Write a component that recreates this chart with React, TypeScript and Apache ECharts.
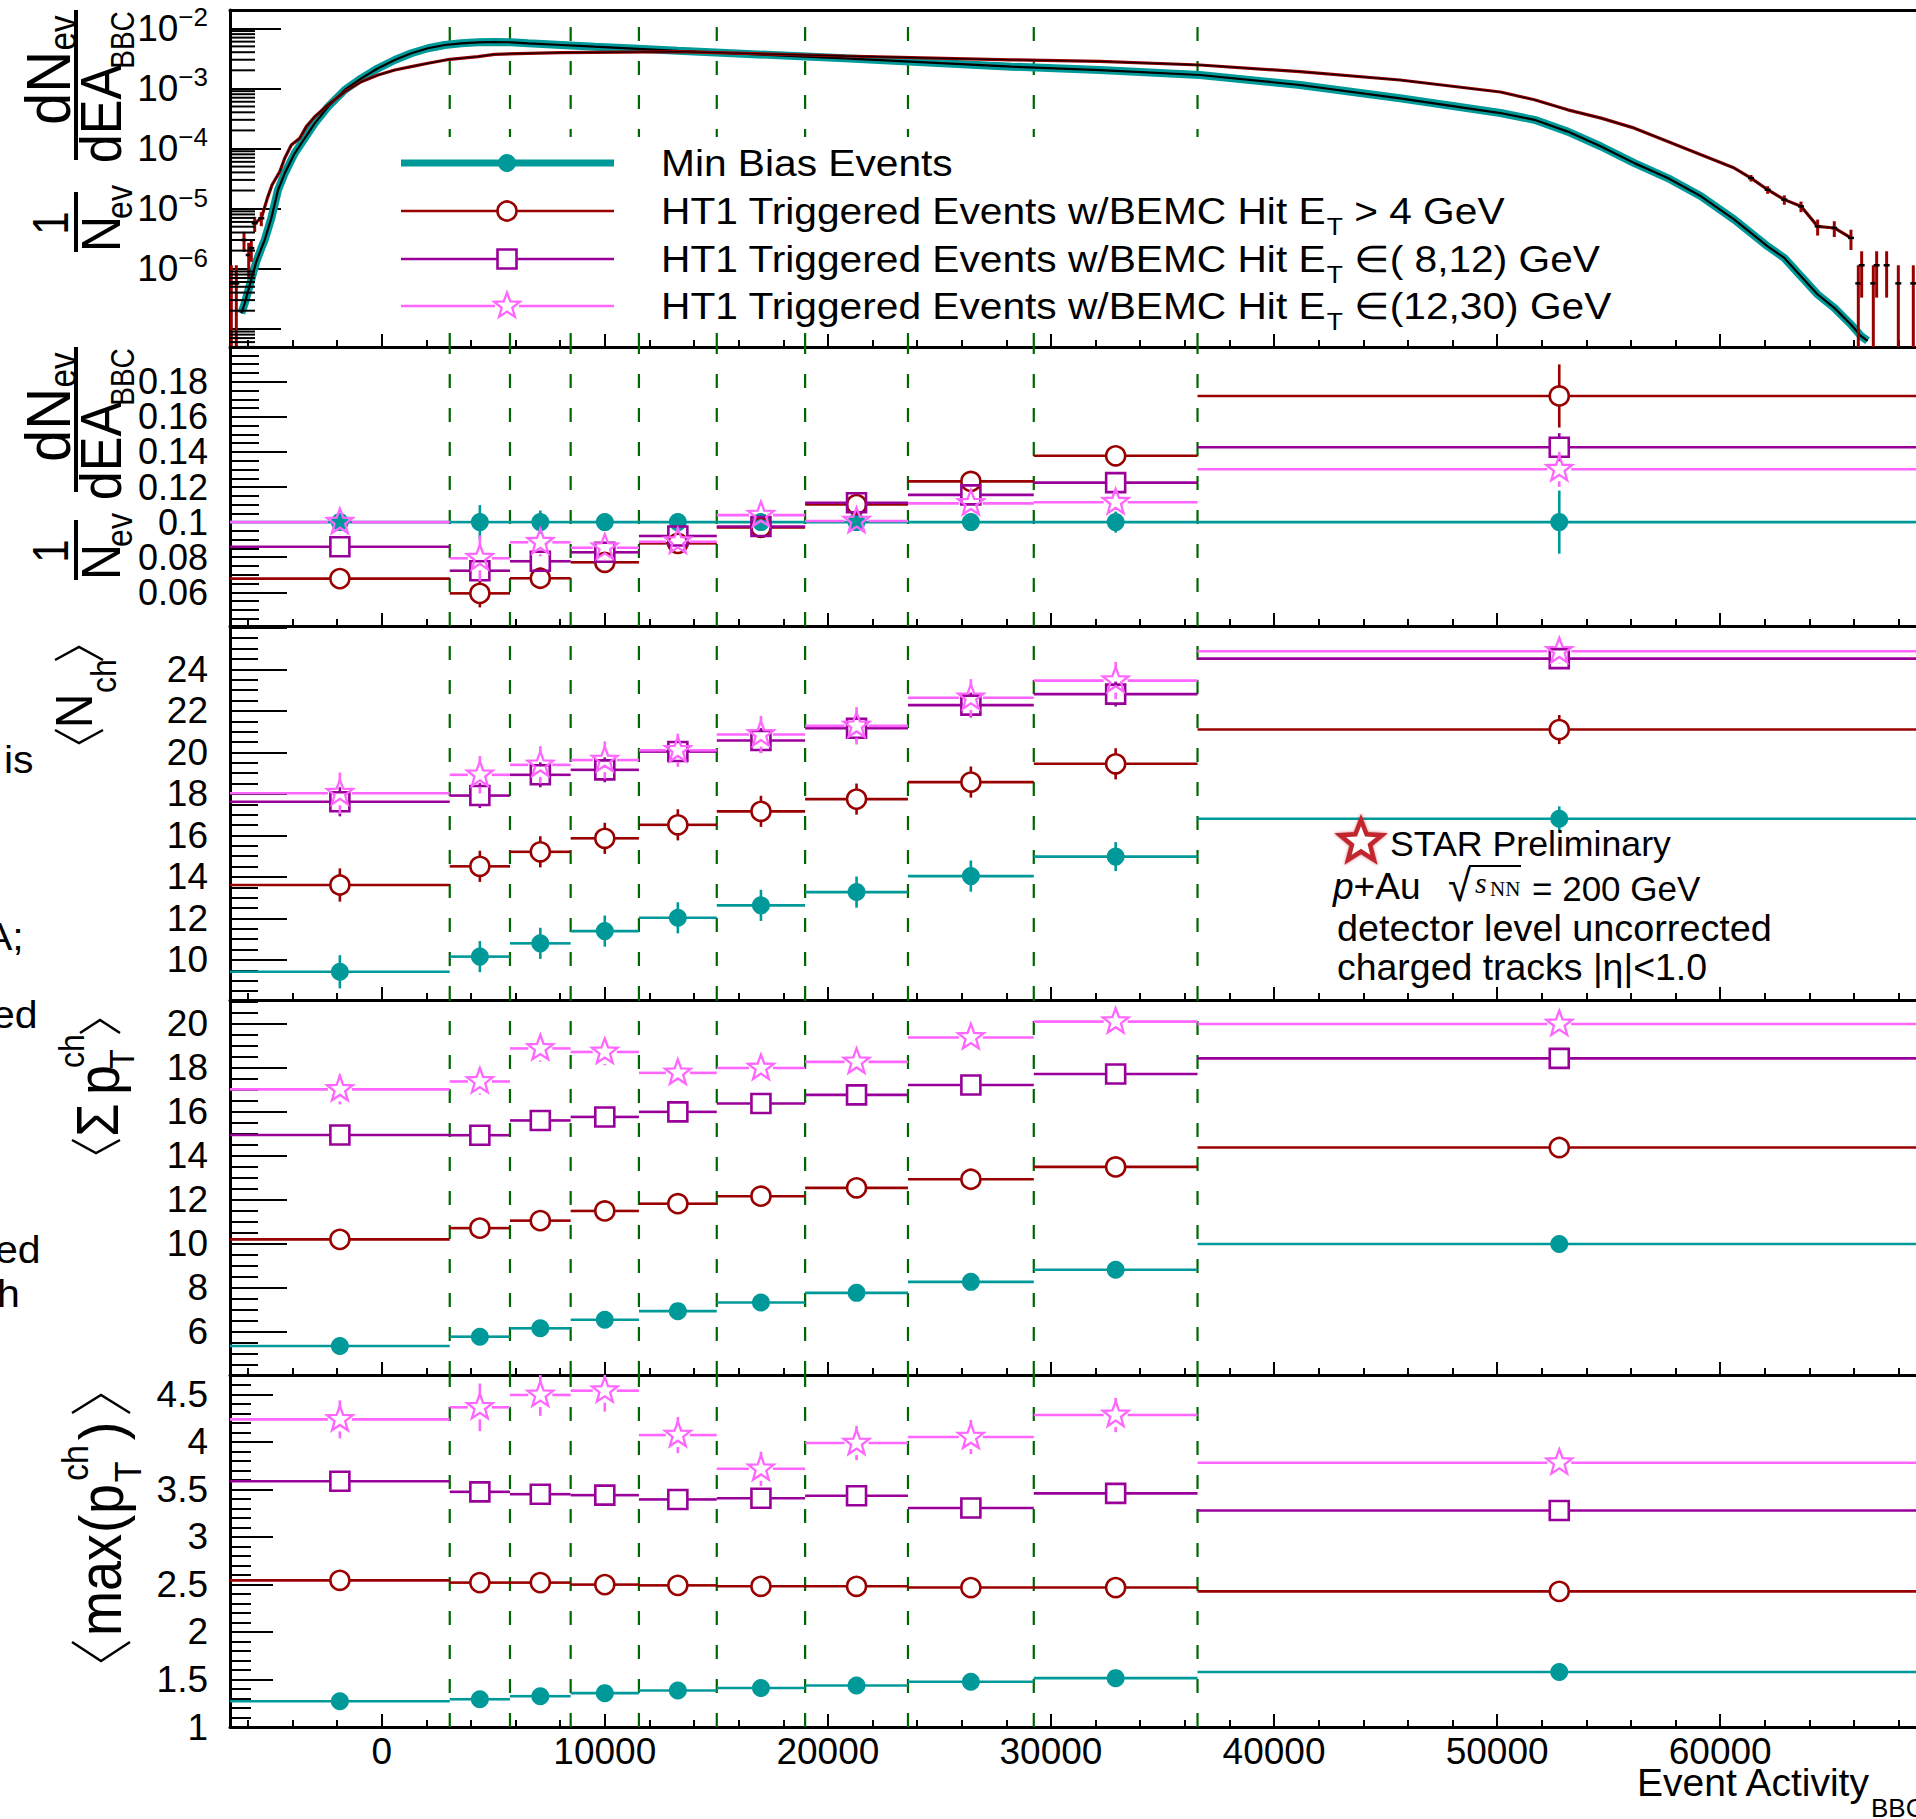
import React, { useEffect, useRef } from "react";
import * as echarts from "echarts";

const SANS = '"Liberation Sans", Arial, Helvetica, sans-serif';
const SERIF = '"Liberation Serif", "Times New Roman", serif';

const TEAL = "#009999";
const RED = "#990000";
const PURPLE = "#990099";
const PINK = "#ff66ff";
const GREEN = "#006600";
const STAR_RED = "#c1272d";

const X_MIN = -6800;
const X_MAX = 69000;

// bin edges of the Event Activity classes
const binEdges = [-6800, 3050, 5750, 8470, 11530, 15020, 18980, 23590, 29230, 36570, 69000];

const legendLabels = [
  "Min Bias Events",
  "HT1 Triggered Events w/BEMC Hit E{t|T} > 4 GeV",
  "HT1 Triggered Events w/BEMC Hit E{t|T} \u2208( 8,12) GeV",
  "HT1 Triggered Events w/BEMC Hit E{t|T} \u2208(12,30) GeV",
];

// ---- Panel 1: 1/N dN/dEA distributions ----
const mbDistX = [-6293, -6141, -5621, -5397, -5244, -4949, -4648, -4348, -3900, -3452, -3003, -2407, -1659, -914, -166, 583, 1327, 2075, 2824, 3568, 4317, 5065, 5810, 6558, 8051, 9548, 11041, 13282, 20753, 28222, 32198, 36680, 41163, 45645, 50150, 51673, 53166, 54659, 56153, 57646, 59140, 60633, 62127, 62873, 63620, 64367, 65113, 65860, 66308, 66607];
const mbDistY = [1.81e-7, 2.65e-7, 1.31e-6, 2.18e-6, 3.01e-6, 6.9e-6, 2.04e-5, 3.86e-5, 8.32e-5, 1.48e-4, 2.62e-4, 4.95e-4, 9.4e-4, 1.47e-3, 2.16e-3, 2.97e-3, 3.84e-3, 4.65e-3, 5.27e-3, 5.62e-3, 5.85e-3, 5.92e-3, 5.85e-3, 5.62e-3, 5.27e-3, 4.94e-3, 4.65e-3, 4.22e-3, 3.17e-3, 2.3e-3, 2.02e-3, 1.67e-3, 1.14e-3, 6.84e-4, 3.89e-4, 3.0e-4, 1.91e-4, 1.08e-4, 5.71e-5, 3.22e-5, 1.6e-5, 6.55e-6, 2.36e-6, 1.51e-6, 7.48e-7, 3.72e-7, 2.23e-7, 1.18e-7, 7.59e-8, 6.31e-8];

const htDistX = [-5693, -5397, -5128, -4917, -4572, -4348, -4052, -3676, -3380, -3003, -2407, -1659, -914, -166, 583, 1327, 2075, 3048, 4317, 5065, 6558, 8051, 9548, 13282, 20753, 28222, 32198, 36680, 41163, 45645, 50150, 51673, 53166, 54659, 56153, 57646, 59140, 60633, 61380, 62127, 62873, 63620, 64367, 65113, 65860];
const htDistY = [5.69e-6, 6.9e-6, 1.48e-5, 2.47e-5, 4.11e-5, 6.87e-5, 1.14e-4, 1.48e-4, 2.31e-4, 3.38e-4, 5.3e-4, 8.81e-4, 1.29e-3, 1.67e-3, 2.02e-3, 2.3e-3, 2.62e-3, 3.05e-3, 3.37e-3, 3.69e-3, 3.84e-3, 3.93e-3, 3.99e-3, 4.08e-3, 3.46e-3, 2.99e-3, 2.82e-3, 2.45e-3, 1.9e-3, 1.38e-3, 8.7e-4, 6.46e-4, 4.4e-4, 3.2e-4, 2.18e-4, 1.31e-4, 7.85e-5, 4.72e-5, 3.22e-5, 2.06e-5, 1.41e-5, 1.09e-5, 5.06e-6, 4.76e-6, 3.25e-6];

// HT1 bins with visible error bars (low-statistics tails)
const htBarX = [-6741, -6517, -6172, -5962, -5845, -5693, -5397, 61380, 62127, 62873, 63620, 64367, 65113, 65860, 66190, 66340, 66862, 67012, 67460, 67983, 68655];
const htBarY = [5.7e-7, 5.7e-7, 3.0e-6, 1.69e-6, 2.2e-6, 5.69e-6, 6.9e-6, 3.22e-5, 2.06e-5, 1.41e-5, 1.09e-5, 5.06e-6, 4.76e-6, 3.25e-6, 5.7e-7, 1.14e-6, 5.7e-7, 1.14e-6, 1.14e-6, 5.7e-7, 5.7e-7];
const htBarErr = [5.7e-7, 5.7e-7, 1.1e-6, 1.0e-6, 0.9e-6, 1.6e-6, 1.8e-6, 0.4e-5, 0.3e-5, 0.25e-5, 0.22e-5, 1.5e-6, 1.4e-6, 1.2e-6, 5.7e-7, 8.1e-7, 5.7e-7, 8.1e-7, 8.1e-7, 5.7e-7, 5.7e-7];

// ---- Panel 2: 1/N dN/dEA per class ----
const p2MB = [0.1, 0.1, 0.1, 0.1, 0.1, 0.1, 0.1, 0.1, 0.1, 0.1];
const p2MBErr = [0.003, 0.0097, 0.0066, 0.004, 0.004, 0.004, 0.004, 0.005, 0.006, 0.018];
const p2HT4 = [0.0678, 0.0594, 0.068, 0.0771, 0.0879, 0.097, 0.11, 0.1232, 0.1378, 0.1719];
const p2HT4Err = [0.002, 0.008, 0.006, 0.004, 0.004, 0.004, 0.004, 0.004, 0.005, 0.018];
const p2HT8 = [0.086, 0.0723, 0.0777, 0.0828, 0.0921, 0.0975, 0.111, 0.1155, 0.1225, 0.1427];
const p2HT8Err = [0.002, 0.006, 0.005, 0.003, 0.003, 0.003, 0.003, 0.004, 0.004, 0.008];
const p2HT12 = [0.1, 0.0794, 0.0885, 0.0854, 0.0888, 0.104, 0.1006, 0.1107, 0.1113, 0.1301];
const p2HT12Err = [0.007, 0.013, 0.008, 0.007, 0.006, 0.006, 0.006, 0.007, 0.007, 0.01];

// ---- Panel 3: <N_ch> ----
const p3MB = [9.43, 10.16, 10.8, 11.39, 12.03, 12.63, 13.27, 14.04, 14.98, 16.8];
const p3MBErr = [0.8, 0.75, 0.75, 0.75, 0.75, 0.75, 0.75, 0.75, 0.7, 0.6];
const p3HT4 = [13.61, 14.51, 15.21, 15.86, 16.51, 17.16, 17.75, 18.57, 19.45, 21.1];
const p3HT4Err = [0.8, 0.75, 0.75, 0.75, 0.75, 0.75, 0.75, 0.75, 0.75, 0.7];
const p3HT8 = [17.62, 17.92, 18.92, 19.16, 20.04, 20.57, 21.16, 22.28, 22.81, 24.52];
const p3HT8Err = [0.7, 0.6, 0.6, 0.6, 0.5, 0.6, 0.6, 0.6, 0.6, 0.5];
const p3HT12 = [18.03, 18.92, 19.4, 19.63, 20.1, 20.86, 21.28, 22.63, 23.46, 24.87];
const p3HT12Err = [1.0, 0.9, 0.9, 0.9, 0.8, 0.9, 0.9, 0.9, 0.9, 0.6];

// ---- Panel 4: <Sum pT^ch> ----
const p4MB = [5.35, 5.77, 6.15, 6.54, 6.93, 7.32, 7.76, 8.26, 8.81, 9.98];
const p4MBErr = [0.15, 0.15, 0.15, 0.15, 0.15, 0.15, 0.15, 0.15, 0.15, 0.15];
const p4HT4 = [10.19, 10.7, 11.04, 11.48, 11.81, 12.15, 12.53, 12.92, 13.48, 14.36];
const p4HT4Err = [0.2, 0.2, 0.2, 0.2, 0.2, 0.2, 0.2, 0.2, 0.2, 0.2];
const p4HT8 = [14.93, 14.92, 15.59, 15.75, 15.98, 16.36, 16.75, 17.2, 17.7, 18.41];
const p4HT8Err = [0.28, 0.25, 0.25, 0.25, 0.25, 0.25, 0.25, 0.25, 0.25, 0.2];
const p4HT12 = [17.0, 17.36, 18.86, 18.7, 17.75, 17.97, 18.25, 19.36, 20.08, 19.97];
const p4HT12Err = [0.68, 0.6, 0.6, 0.6, 0.55, 0.55, 0.55, 0.55, 0.5, 0.35];

// ---- Panel 5: <max(pT^ch)> ----
const p5MB = [1.271, 1.292, 1.324, 1.356, 1.384, 1.411, 1.437, 1.476, 1.514, 1.578];
const p5MBErr = [0.02, 0.02, 0.02, 0.02, 0.02, 0.02, 0.02, 0.02, 0.02, 0.02];
const p5HT4 = [2.543, 2.519, 2.519, 2.498, 2.49, 2.48, 2.48, 2.467, 2.467, 2.427];
const p5HT4Err = [0.02, 0.02, 0.02, 0.02, 0.02, 0.02, 0.02, 0.02, 0.02, 0.02];
const p5HT8 = [3.586, 3.474, 3.449, 3.439, 3.394, 3.407, 3.433, 3.304, 3.458, 3.278];
const p5HT8Err = [0.04, 0.04, 0.04, 0.04, 0.04, 0.04, 0.04, 0.04, 0.04, 0.03];
const p5HT12 = [4.236, 4.363, 4.493, 4.538, 4.071, 3.716, 3.987, 4.05, 4.282, 3.78];
const p5HT12Err = [0.2, 0.25, 0.22, 0.22, 0.19, 0.18, 0.18, 0.18, 0.18, 0.1];

// ---- layout ----
const GRID_TOP = [10, 347, 626, 1000, 1375];
const GRID_H = [337, 279, 374, 375, 352];
const Y_RANGE = [[-7.303, -1.6955], [0.0408, 0.1998], [8.07, 26.09], [4.03, 21.06], [1.0, 4.703]];
const Y_SPLIT = [5, 8, 8, 8, 8];
const LABEL_TOP = [-2, 0.18, 24, 20, 4.5];
const MAJOR_LEN = [51, 57, 57, 57, 43];
const MINOR_LEN = [25, 29, 28, 28, 21];
const MINOR_SPLIT = [5, 4, 4, 4, 5];
const LABEL_SIZE = [36, 36, 37, 37, 37];

function starPoints(cx: number, cy: number, R: number, r: number) {
  const pts: number[][] = [];
  for (let k = 0; k < 10; k++) {
    const a = -Math.PI / 2 + (k * Math.PI) / 5;
    const rad = k % 2 === 0 ? R : r;
    pts.push([cx + rad * Math.cos(a), cy + rad * Math.sin(a)]);
  }
  return pts;
}

function markerShape(kind: string, cx: number, cy: number, color: string): any {
  if (kind === "dot") return { type: "circle", shape: { cx, cy, r: 9 }, style: { fill: color } };
  if (kind === "circle")
    return { type: "circle", shape: { cx, cy, r: 9.5 }, style: { fill: "none", stroke: color, lineWidth: 2.6 } };
  if (kind === "square")
    return { type: "rect", shape: { x: cx - 9.5, y: cy - 9.5, width: 19, height: 19 }, style: { fill: "none", stroke: color, lineWidth: 2.6 } };
  return { type: "polygon", shape: { points: starPoints(cx, cy, 13.5, 5.6) }, style: { fill: "none", stroke: color, lineWidth: 2.3 } };
}

function stepSeries(grid: number, values: number[], errs: number[], color: string, kind: string, z: number): any {
  return {
    type: "custom",
    xAxisIndex: grid,
    yAxisIndex: grid,
    clip: true,
    z,
    silent: true,
    data: values.map((v, i) => [binEdges[i], binEdges[i + 1], v, errs[i]]),
    renderItem: (params: any, api: any) => {
      const lo = api.value(0);
      const hi = api.value(1);
      const v = api.value(2);
      const e = api.value(3);
      const mid = (lo + hi) / 2;
      const L = api.coord([lo, v]);
      const R = api.coord([hi, v]);
      const C = api.coord([mid, v]);
      const T = api.coord([mid, v + e]);
      const B = api.coord([mid, v - e]);
      const gap = kind === "dot" ? 0 : kind === "star" ? 12 : 10;
      const ls = { stroke: color, lineWidth: 2.6 };
      const ch: any[] = [
        { type: "line", shape: { x1: L[0], y1: L[1], x2: C[0] - gap, y2: C[1] }, style: ls },
        { type: "line", shape: { x1: C[0] + gap, y1: C[1], x2: R[0], y2: R[1] }, style: ls },
      ];
      if (C[1] - T[1] > gap) ch.push({ type: "line", shape: { x1: C[0], y1: T[1], x2: C[0], y2: C[1] - gap }, style: ls });
      if (B[1] - C[1] > gap) ch.push({ type: "line", shape: { x1: C[0], y1: C[1] + gap, x2: C[0], y2: B[1] }, style: ls });
      ch.push(markerShape(kind, C[0], C[1], color));
      return { type: "group", children: ch };
    },
  };
}

function dashSeries(grid: number): any {
  const [ymin, ymax] = Y_RANGE[grid];
  return {
    type: "custom",
    xAxisIndex: grid,
    yAxisIndex: grid,
    z: 1,
    silent: true,
    data: binEdges.slice(1, -1).map((x) => [x, ymin]),
    renderItem: (params: any, api: any) => {
      const x = api.value(0);
      const a = api.coord([x, ymin]);
      const b = api.coord([x, ymax]);
      return {
        type: "line",
        shape: { x1: a[0], y1: a[1], x2: b[0], y2: b[1] },
        style: { stroke: GREEN, lineWidth: 2.2, lineDash: [14, 20] },
      };
    },
  };
}

const vtext = (text: string, x: number, y: number, size: number, o: any = {}) => ({
  type: "text",
  x,
  y,
  rotation: Math.PI / 2,
  scaleY: o.sy ?? 1.08,
  z: 60,
  style: {
    text,
    fontSize: size,
    fontFamily: o.font ?? SANS,
    fontStyle: o.italic ? "italic" : "normal",
    fill: "#000",
    align: "center",
    verticalAlign: "middle",
  },
});

const htext = (text: string, x: number, y: number, size: number, o: any = {}) => ({
  type: "text",
  x,
  y,
  scaleX: o.sx ?? 1.05,
  z: 60,
  style: {
    text,
    fontSize: size,
    fontFamily: o.font ?? SANS,
    fontStyle: o.italic ? "italic" : "normal",
    fill: "#000",
    align: o.align ?? "left",
    verticalAlign: "middle",
    rich: o.rich,
  },
});

const vline = (x: number, y1: number, y2: number, w = 4) => ({
  type: "line",
  z: 60,
  shape: { x1: x, y1, x2: x, y2 },
  style: { stroke: "#000", lineWidth: w },
});

const bracket = (pts: number[][]) => ({
  type: "polyline",
  z: 60,
  shape: { points: pts },
  style: { stroke: "#000", lineWidth: 2.5, fill: "none" },
});

function buildGraphic(): any[] {
  const g: any[] = [];
  // y titles, panels 1 and 2: 1/N_ev dN_ev/dEA_BBC
  [
    [0, 0, 160],
    [337, 328, 492],
  ].forEach(([dn, dd, barEnd]) => {
    g.push(vtext("dN", 48, 88 + dn, 58, { sy: 1.1 }));
    g.push(vtext("ev", 63, 33 + dn, 33, { sy: 1.15 }));
    g.push(vline(76, 10 + dn, barEnd));
    g.push(vtext("dEA", 102, 114 + dn, 52, { sy: 1.1 }));
    g.push(vtext("BBC", 123, 40 + dn, 28, { sy: 1.2 }));
    g.push(vtext("1", 51, 223 + dd, 42, { sy: 1.2 }));
    g.push(vline(76, 192 + dd, 252 + dd));
    g.push(vtext("N", 100, 234 + dd, 50, { sy: 1.12 }));
    g.push(vtext("ev", 119, 202 + dd, 32, { sy: 1.15 }));
  });
  // panel 3: <N_ch>
  g.push(bracket([[55, 730], [79, 743], [103, 730]]));
  g.push(vtext("N", 74, 711, 48));
  g.push(vtext("ch", 104, 676, 32));
  g.push(bracket([[55, 660], [79, 647], [103, 660]]));
  // panel 4: <Sum p_T^ch>
  g.push(bracket([[72, 1140], [96, 1153], [120, 1140]]));
  g.push(vtext("\u03A3", 98, 1120, 54));
  g.push(vtext("p", 99, 1080, 54));
  g.push(vtext("ch", 72, 1051, 32));
  g.push(vtext("T", 122, 1059, 32));
  g.push(bracket([[80, 1033], [100, 1020], [120, 1033]]));
  // panel 5: <max(p_T^ch)>
  g.push(bracket([[72, 1642], [101, 1661], [130, 1642]]));
  g.push(vtext("max", 100, 1585, 54, { sy: 1.12 }));
  g.push(vtext("(", 101, 1524, 56, { sy: 1.1 }));
  g.push(vtext("p", 102, 1499, 54, { sy: 1.12 }));
  g.push(vtext("ch", 75, 1463, 34));
  g.push(vtext("T", 128, 1472, 34));
  g.push(vtext(")", 101, 1431, 56, { sy: 1.1 }));
  g.push(bracket([[72, 1413], [101, 1395], [130, 1413]]));

  // legend (white box sits above the dashed lines, below the curves)
  g.push({ type: "rect", z: 2, shape: { x: 395, y: 137, width: 1240, height: 194 }, style: { fill: "#fff" } });
  const rows = [163, 211, 259, 306];
  const cols = [TEAL, RED, PURPLE, PINK];
  const kinds = ["dot", "circle", "square", "star"];
  rows.forEach((y, i) => {
    const gap = i === 0 ? 0 : i === 3 ? 12 : 10;
    const lw = i === 0 ? 7 : 2.6;
    g.push({ type: "line", z: 41, shape: { x1: 401, y1: y, x2: 507 - gap, y2: y }, style: { stroke: cols[i], lineWidth: lw } });
    g.push({ type: "line", z: 41, shape: { x1: 507 + gap, y1: y, x2: 614, y2: y }, style: { stroke: cols[i], lineWidth: lw } });
    g.push({ ...markerShape(kinds[i], 507, y, cols[i]), z: 42 });
    g.push(
      htext(legendLabels[i], 661, y, 37, {
        sx: 1.1,
        rich: { t: { fontSize: 24, fontFamily: SANS, padding: [30, 0, 0, 0] } },
      })
    );
  });

  // STAR preliminary block
  g.push({
    type: "polygon",
    z: 60,
    shape: { points: starPoints(1361, 842, 22, 9.5) },
    style: { fill: "#fff", stroke: STAR_RED, lineWidth: 4.5, shadowBlur: 3, shadowColor: "rgba(193,39,45,0.7)" },
  });
  g.push(htext("STAR Preliminary", 1390, 844, 35, { sx: 1.02 }));
  g.push(htext("{i|p}+Au", 1333, 887, 36, { sx: 1.03, rich: { i: { fontStyle: "italic", fontSize: 36, fontFamily: SANS } } }));
  g.push(htext("\u221A", 1448, 886, 44, { sx: 0.95 }));
  g.push({ type: "line", z: 60, shape: { x1: 1469, y1: 866, x2: 1521, y2: 866 }, style: { stroke: "#000", lineWidth: 2 } });
  g.push(htext("s", 1475, 882, 30, { sx: 1.0, font: SERIF, italic: true }));
  g.push(htext("NN", 1490, 889, 21, { sx: 1.0, font: SERIF }));
  g.push(htext("= 200 GeV", 1532, 888, 35, { sx: 1.0 }));
  g.push(htext("detector level uncorrected", 1337, 929, 36, { sx: 1.05 }));
  g.push(htext("charged tracks |\u03B7|<1.0", 1337, 968, 36, { sx: 1.04 }));

  // x-axis title
  g.push(htext("Event Activity", 1637, 1782, 39, { sx: 1.0 }));
  g.push(htext("BBC", 1871, 1808, 26, { sx: 1.0 }));

  // text cut off at the left edge of the picture
  g.push(htext("is", 4, 760, 38, { sx: 1.08 }));
  g.push(htext("A;", -15, 937, 38, { sx: 1.08 }));
  g.push(htext("ed", -8, 1015, 38, { sx: 1.08 }));
  g.push(htext("ed", -5, 1250, 38, { sx: 1.08 }));
  g.push(htext("h", -3, 1294, 38, { sx: 1.08 }));
  return g;
}

function buildOption(): any {
  const grid = GRID_TOP.map((t, i) => ({ left: 230, top: t, width: 1691, height: GRID_H[i], outerBoundsMode: "none" }));

  const xAxis: any[] = GRID_TOP.map((_, i) => ({
    type: "value",
    gridIndex: i,
    min: X_MIN,
    max: X_MAX,
    splitNumber: 8,
    position: "bottom",
    axisLine: { show: true, onZero: false, lineStyle: { color: "#000", width: 3 } },
    axisTick: { show: true, inside: true, length: 13, lineStyle: { color: "#000", width: 2 } },
    minorTick: { show: true, splitNumber: 5, length: 7, lineStyle: { color: "#000", width: 2 } },
    splitLine: { show: false },
    axisLabel: {
      show: i === 4,
      margin: 6,
      fontSize: 37,
      fontFamily: SANS,
      color: "#000",
      showMinLabel: false,
      showMaxLabel: false,
      formatter: (v: number) => String(v),
    },
  }));
  xAxis.push({
    type: "value",
    gridIndex: 0,
    min: X_MIN,
    max: X_MAX,
    position: "top",
    axisLine: { show: true, onZero: false, lineStyle: { color: "#000", width: 3 } },
    axisTick: { show: false },
    axisLabel: { show: false },
    splitLine: { show: false },
  });

  const yAxis = Y_RANGE.map((r, i) => ({
    type: "value",
    gridIndex: i,
    min: r[0],
    max: r[1],
    splitNumber: Y_SPLIT[i],
    axisLine: { show: true, onZero: false, lineStyle: { color: "#000", width: 3 } },
    axisTick: { show: true, inside: true, length: MAJOR_LEN[i], lineStyle: { color: "#000", width: 2 } },
    minorTick: { show: i > 0, splitNumber: MINOR_SPLIT[i], length: MINOR_LEN[i], lineStyle: { color: "#000", width: 2 } },
    splitLine: { show: false },
    axisLabel: {
      margin: 22,
      fontSize: LABEL_SIZE[i],
      fontFamily: SANS,
      color: "#000",
      showMinLabel: i === 4,
      showMaxLabel: false,
      formatter:
        i === 0
          ? (v: number) => {
              const n = Math.round(v);
              if (Math.abs(v - n) > 1e-6 || n < -6 || n > -2) return "";
              return `{b|10}{s|\u2212${-n}}`;
            }
          : (v: number) => (v > LABEL_TOP[i] + 1e-9 ? "" : String(parseFloat(Number(v).toPrecision(6)))),
      rich: {
        b: { fontSize: 37, fontFamily: SANS, color: "#000" },
        s: { fontSize: 26, fontFamily: SANS, color: "#000", padding: [0, 0, 22, 0] },
      },
    },
  }));

  // minor ticks of the logarithmic axis in panel 1 (2..9 x 10^n)
  const logMinor: number[][] = [];
  for (let n = -8; n <= -2; n++) {
    for (let k = 2; k <= 9; k++) {
      const lv = Math.log10(k * Math.pow(10, n));
      if (lv > Y_RANGE[0][0] && lv < Y_RANGE[0][1]) logMinor.push([X_MIN, lv]);
    }
  }

  const series: any[] = [];
  series.push(dashSeries(0));
  series.push({
    type: "line",
    xAxisIndex: 0,
    yAxisIndex: 0,
    z: 3,
    symbol: "none",
    silent: true,
    data: mbDistX.map((x, i) => [x, Math.log10(mbDistY[i])]),
    lineStyle: { color: TEAL, width: 8 },
  });
  series.push({
    type: "line",
    xAxisIndex: 0,
    yAxisIndex: 0,
    z: 4,
    symbol: "none",
    silent: true,
    data: mbDistX.map((x, i) => [x, Math.log10(mbDistY[i])]),
    lineStyle: { color: "#000", width: 2.2 },
  });
  series.push({
    type: "line",
    xAxisIndex: 0,
    yAxisIndex: 0,
    z: 5,
    symbol: "none",
    silent: true,
    data: htDistX.map((x, i) => [x, Math.log10(htDistY[i])]),
    lineStyle: { color: RED, width: 3.2 },
  });
  series.push({
    type: "line",
    xAxisIndex: 0,
    yAxisIndex: 0,
    z: 6,
    symbol: "none",
    silent: true,
    data: htDistX.map((x, i) => [x, Math.log10(htDistY[i])]),
    lineStyle: { color: "#1a0000", width: 1.3 },
  });
  series.push({
    type: "custom",
    xAxisIndex: 0,
    yAxisIndex: 0,
    z: 7,
    clip: true,
    silent: true,
    data: htBarX.map((x, i) => [x, htBarY[i], htBarErr[i]]),
    renderItem: (params: any, api: any) => {
      const x = api.value(0);
      const v = api.value(1);
      const e = api.value(2);
      const hiV = Math.log10(v + e);
      const loV = v - e > 0 ? Math.log10(v - e) : Y_RANGE[0][0] - 1;
      const c = api.coord([x, Math.log10(v)]);
      const a = api.coord([x, hiV]);
      const b = api.coord([x, loV]);
      return {
        type: "group",
        children: [
          { type: "line", shape: { x1: a[0], y1: a[1], x2: b[0], y2: b[1] }, style: { stroke: RED, lineWidth: 3 } },
          { type: "line", shape: { x1: c[0] - 3, y1: c[1], x2: c[0] + 3, y2: c[1] }, style: { stroke: "#000", lineWidth: 2.5 } },
        ],
      };
    },
  });
  series.push({
    type: "custom",
    xAxisIndex: 0,
    yAxisIndex: 0,
    z: 8,
    silent: true,
    data: logMinor,
    renderItem: (params: any, api: any) => {
      const p = api.coord([api.value(0), api.value(1)]);
      return { type: "line", shape: { x1: p[0], y1: p[1], x2: p[0] + MINOR_LEN[0], y2: p[1] }, style: { stroke: "#000", lineWidth: 2 } };
    },
  });

  const panels = [
    [p2MB, p2MBErr, p2HT4, p2HT4Err, p2HT8, p2HT8Err, p2HT12, p2HT12Err],
    [p3MB, p3MBErr, p3HT4, p3HT4Err, p3HT8, p3HT8Err, p3HT12, p3HT12Err],
    [p4MB, p4MBErr, p4HT4, p4HT4Err, p4HT8, p4HT8Err, p4HT12, p4HT12Err],
    [p5MB, p5MBErr, p5HT4, p5HT4Err, p5HT8, p5HT8Err, p5HT12, p5HT12Err],
  ];
  panels.forEach((p, k) => {
    const gi = k + 1;
    series.push(dashSeries(gi));
    series.push(stepSeries(gi, p[0], p[1], TEAL, "dot", 3));
    series.push(stepSeries(gi, p[2], p[3], RED, "circle", 4));
    series.push(stepSeries(gi, p[4], p[5], PURPLE, "square", 5));
    series.push(stepSeries(gi, p[6], p[7], PINK, "star", 6));
  });

  return {
    animation: false,
    backgroundColor: "#fff",
    textStyle: { fontFamily: SANS },
    grid,
    xAxis,
    yAxis,
    series,
    graphic: { elements: buildGraphic() },
  };
}

export default function App() {
  const ref = useRef<HTMLDivElement>(null);
  useEffect(() => {
    document.body.style.margin = "0";
    const chart = echarts.init(ref.current as HTMLDivElement, null, { renderer: "svg" });
    chart.setOption(buildOption());
    return () => chart.dispose();
  }, []);
  return (
    <div
      ref={ref}
      style={{ position: "absolute", left: 0, top: 0, width: 1916, height: 1819, background: "#fff" }}
    />
  );
}
